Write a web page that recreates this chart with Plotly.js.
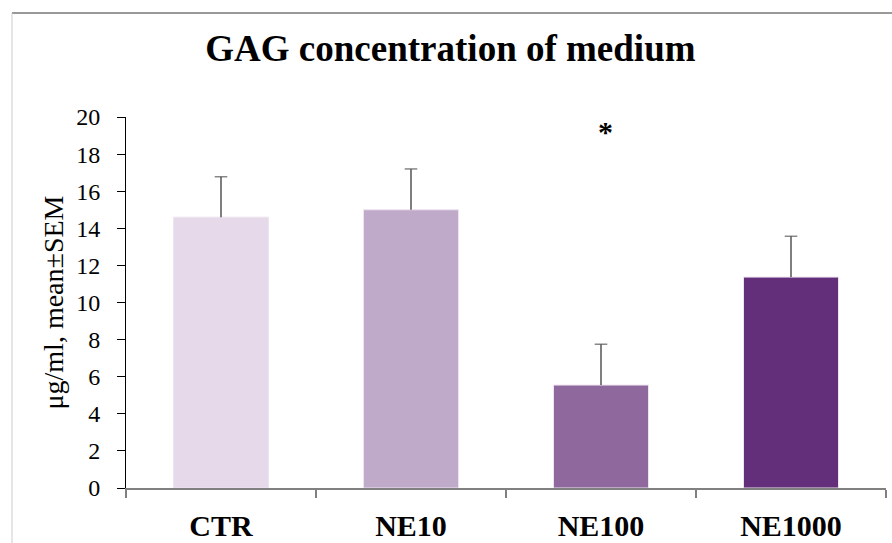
<!DOCTYPE html>
<html>
<head>
<meta charset="utf-8">
<script src="https://cdn.plot.ly/plotly-3.0.1.min.js"></script>
<style>html,body{margin:0;padding:0;background:#fff;}#chart{width:892px;height:543px;}</style>
</head>
<body>
<div id="chart"></div>
<script>
const categories = ["CTR", "NE10", "NE100", "NE1000"];
const means = [14.6, 15.0, 5.55, 11.37];
const sem = [2.18, 2.2, 2.2, 2.2];
const barColors = ["#E6D9E9", "#C0AACA", "#8F699D", "#632E7A"];
const yTicks = [0, 2, 4, 6, 8, 10, 12, 14, 16, 18, 20];
const sigLabel = "*";
const sigCategory = "NE100";
const sigY = 19.2;

const serif = "Liberation Serif, serif";

const barTrace = {
  type: "bar",
  x: categories,
  y: means,
  width: 0.5,
  marker: { color: barColors, line: { color: "#EDE4EF", width: 1 } },
  hoverinfo: "none"
};

// upper-only error bars: a vertical stem from the mean to mean+SEM with a cap at top
const ex = [], ey = [], esize = [];
categories.forEach((c, i) => {
  ex.push(c, c, null);
  ey.push(means[i], means[i] + sem[i], null);
  esize.push(0, 9, 0);
});
const errTrace = {
  type: "scatter",
  mode: "lines+markers",
  x: ex,
  y: ey,
  line: { color: "#555555", width: 1.5 },
  marker: { symbol: "line-ew", size: esize, line: { color: "#555555", width: 1.5 } },
  connectgaps: false,
  hoverinfo: "none"
};

const layout = {
  width: 892,
  height: 543,
  margin: { l: 126, r: 6, t: 117, b: 55 },
  paper_bgcolor: "#ffffff",
  plot_bgcolor: "#ffffff",
  showlegend: false,
  title: {
    text: "<b>GAG concentration of medium</b>",
    font: { family: serif, size: 37, color: "#000" },
    x: 0.505, xanchor: "center",
    y: 0.912, yanchor: "middle"
  },
  xaxis: {
    type: "category",
    range: [-0.5, 3.5],
    showline: true,
    linecolor: "#808080",
    linewidth: 1.5,
    ticks: "outside",
    tickson: "boundaries",
    ticklen: 8,
    tickcolor: "#808080",
    tickwidth: 1.5,
    showgrid: false,
    zeroline: false,
    tickfont: { family: serif, size: 30, color: "#000", weight: "bold" },
    ticklabelstandoff: 10
  },
  yaxis: {
    range: [0, 20],
    tickvals: yTicks,
    showline: true,
    linecolor: "#000",
    linewidth: 1,
    ticks: "outside",
    ticklen: 8,
    tickcolor: "#000",
    showgrid: false,
    zeroline: false,
    tickfont: { family: serif, size: 24, color: "#000" },
    ticklabelstandoff: 12,
    title: {
      text: "μg/ml, mean±SEM",
      font: { family: serif, size: 28, color: "#000" },
      standoff: 4
    }
  },
  annotations: [{
    x: sigCategory, y: sigY, xref: "x", yref: "y",
    text: "<b>" + sigLabel + "</b>",
    showarrow: false,
    xshift: 4,
    font: { family: serif, size: 30, color: "#000" }
  }],
  shapes: [
    { type: "line", xref: "paper", yref: "paper", x0: -0.15, x1: 1.01, y0: 1.2803, y1: 1.2803, line: { color: "#777777", width: 1.5 } },
    { type: "line", xref: "paper", yref: "paper", x0: -0.15, x1: -0.15, y0: 1.2803, y1: -0.2, line: { color: "#cccccc", width: 1 } }
  ]
};

Plotly.newPlot("chart", [barTrace, errTrace], layout, { displayModeBar: false, staticPlot: true });
</script>
</body>
</html>
